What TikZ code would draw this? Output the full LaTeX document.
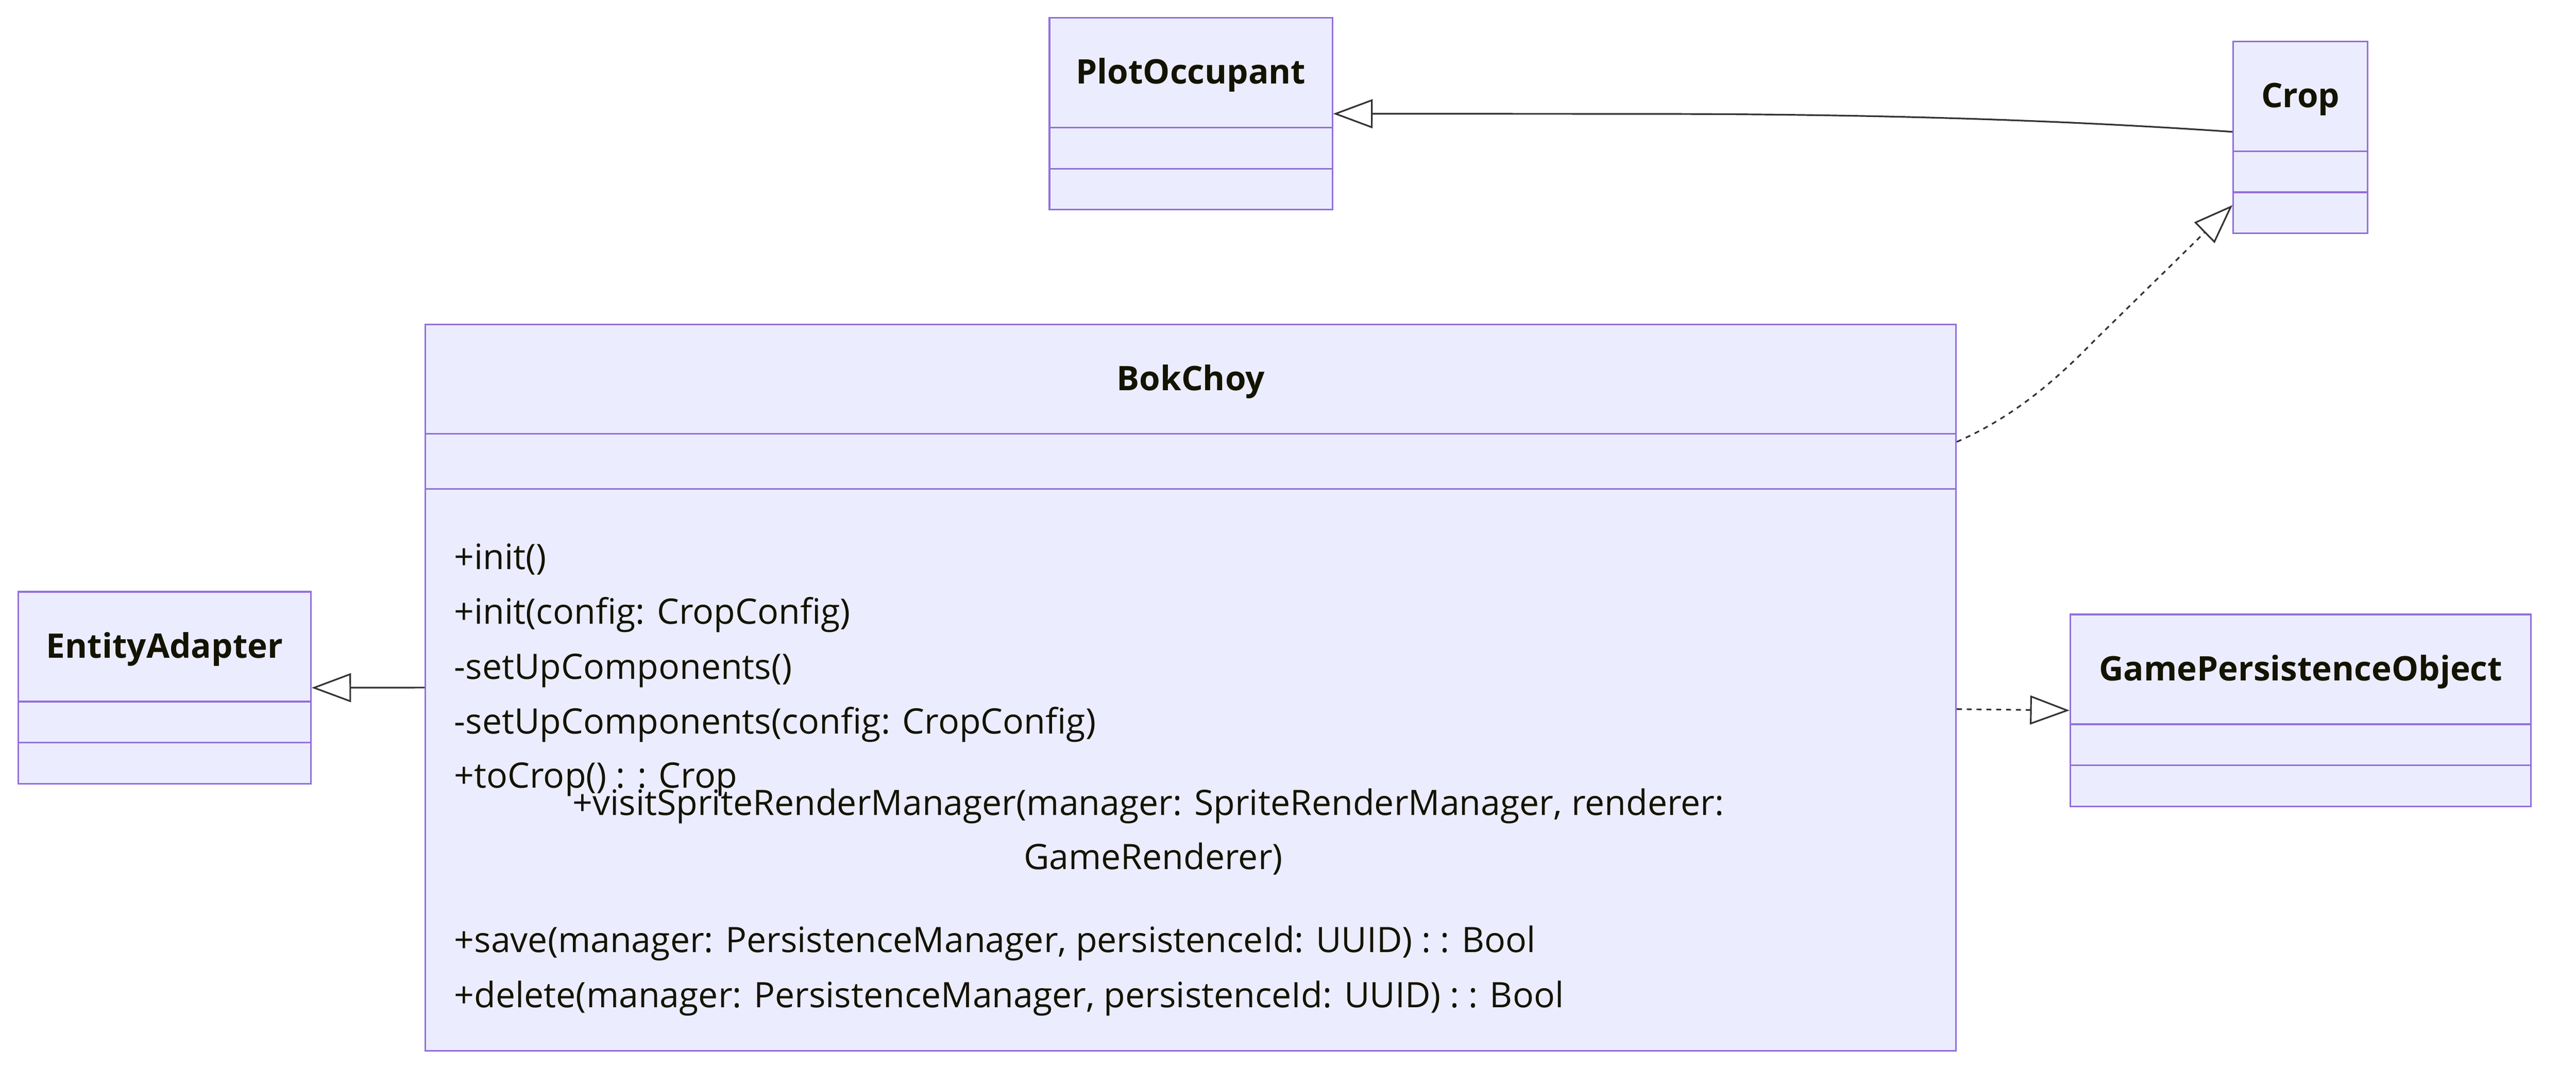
\documentclass[tikz,border=0pt]{standalone}
\usepackage{fontspec}
\setmainfont{Open Sans}
\usetikzlibrary{arrows.meta}
\definecolor{cfill}{HTML}{ECECFF}
\definecolor{cline}{HTML}{9370DB}
\definecolor{edgec}{HTML}{333333}
\definecolor{txt}{HTML}{131300}
\newlength\reflen
\newcommand\bs{20}
\newcommand\bst{19}
\AtBeginDocument{%
  \settowidth\reflen{\normalfont\fontsize{10}{12}\selectfont +delete(manager: PersistenceManager, persistenceId: UUID) : : Bool}%
  \pgfmathsetmacro\bstmp{6754/\reflen}%
  \pgfmathsetmacro\bsttmp{0.965*6754/\reflen}%
  \global\let\bs\bstmp
  \global\let\bst\bsttmp}
\begin{document}
\begin{tikzpicture}[x=1pt,y=-1pt,
  cls/.style={draw=cline, fill=cfill, line width=1pt, rectangle, inner sep=0pt, minimum width=#1},
  sepline/.style={draw=cline, line width=1pt},
  title/.style={font=\bfseries\fontsize{\bst}{\bst}\selectfont, text=txt, inner sep=0pt, anchor=base},
  meth/.style={font=\fontsize{\bs}{\bs}\selectfont, text=txt, inner sep=0pt, anchor=base west},
  methc/.style={meth, anchor=base},
  rel/.style={draw=edgec, line width=1pt},
  dep/.style={rel, dash pattern=on 3pt off 3pt},
  >={Triangle[length=24pt, width=17.6pt, fill=white]},
]
\fill[white] (0,0) rectangle (1568,658);
\useasboundingbox (0,0) rectangle (1568,658);

% PlotOccupant
\node[cls=172.2pt, minimum height=116.8pt] (po) at (724.9,69.2) {};
\draw[sepline] (638.8,77.6) -- (811,77.6);
\draw[sepline] (638.8,102.6) -- (811,102.6);
\node[title] (poT) at (724.9,51.0) {PlotOccupant};

% Crop
\node[cls=81.8pt, minimum height=116.8pt] (crop) at (1400.3,83.6) {};
\draw[sepline] (1359.4,92.0) -- (1441.2,92.0);
\draw[sepline] (1359.4,117.0) -- (1441.2,117.0);
\node[title] (cropT) at (1400.3,65.4) {Crop};

% EntityAdapter
\node[cls=178pt, minimum height=116.8pt] (ea) at (100.2,418.4) {};
\draw[sepline] (11.2,426.8) -- (189.2,426.8);
\draw[sepline] (11.2,451.8) -- (189.2,451.8);
\node[title] (eaT) at (100.2,400.2) {EntityAdapter};

% GamePersistenceObject
\node[cls=280.4pt, minimum height=116.8pt] (gpo) at (1400.4,432.2) {};
\draw[sepline] (1260.2,440.6) -- (1540.6,440.6);
\draw[sepline] (1260.2,465.6) -- (1540.6,465.6);
\node[title] (gpoT) at (1400.4,414.0) {GamePersistenceObject};

% BokChoy
\node[cls=931.6pt, minimum height=441.8pt] (bok) at (724.8,418.3) {};
\draw[sepline] (259,264) -- (1190.6,264);
\draw[sepline] (259,297.4) -- (1190.6,297.4);
\node[title] (bokT) at (724.8,237.6) {BokChoy};

\node[meth] (m1) at (276.3,346.4) {+init()};
\node[meth] (m2) at (276.3,379.7) {+init(config: CropConfig)};
\node[meth] (m3) at (276.3,413.1) {-setUpComponents()};
\node[meth] (m4) at (276.3,446.4) {-setUpComponents(config: CropConfig)};
\node[meth] (m5) at (276.3,479.4) {+toCrop() : : Crop};
\node[methc] (m6) at (699.0,496.0) {+visitSpriteRenderManager(manager: SpriteRenderManager, renderer:};
\node[methc] (m7) at (702.0,529.0) {GameRenderer)};
\node[meth] (m8) at (276.3,579.4) {+save(manager: PersistenceManager, persistenceId: UUID) : : Bool};
\node[meth] (m9) at (276.3,613.0) {+delete(manager: PersistenceManager, persistenceId: UUID) : : Bool};

% relations
\draw[rel,->] ([yshift=3.4pt]crop.west) .. controls (1240,72) and (1120,69.3) .. (1000,69.3) -- (po.east);
\draw[dep,->] ([yshift=149.5pt]bok.east) .. controls (1220,256) and (1245,238) .. (1275,207) -- ([yshift=-41.2pt]crop.west);
\draw[rel,->] (bok.west) -- (ea.east);
\draw[dep,->] ([yshift=-13.1pt]bok.east) -- (gpo.west);
\end{tikzpicture}
\end{document}
